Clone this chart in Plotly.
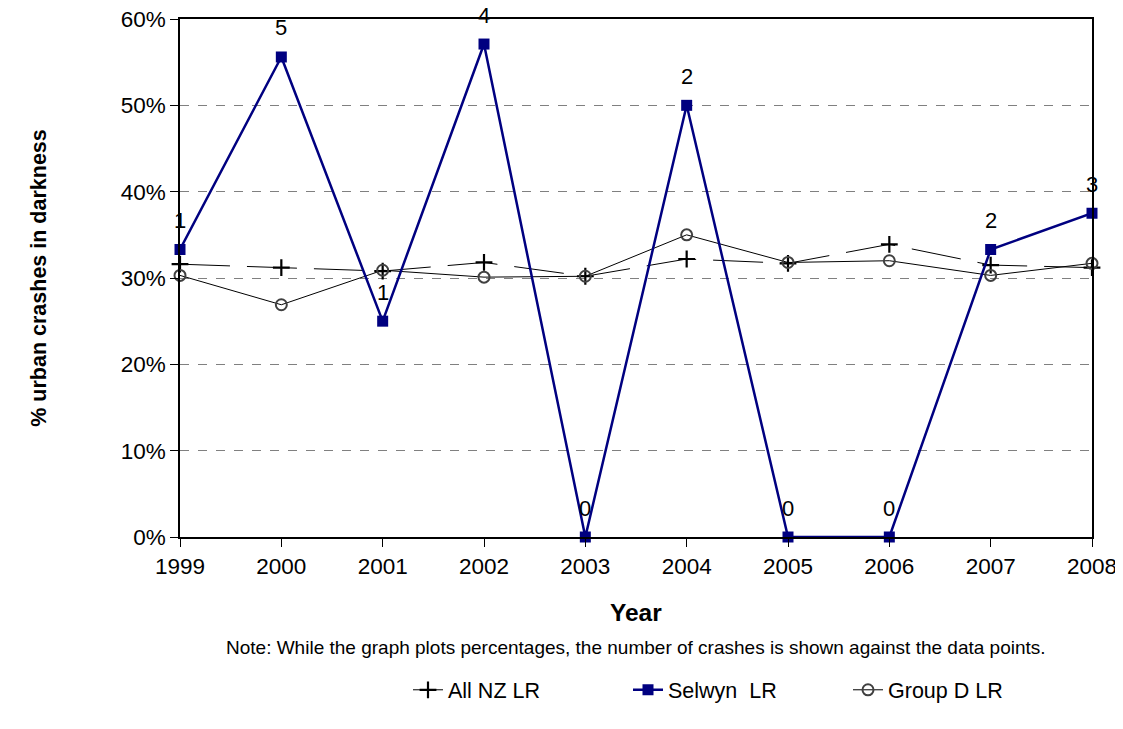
import plotly.graph_objects as go

# data
years = [1999, 2000, 2001, 2002, 2003, 2004, 2005, 2006, 2007, 2008]
all_nz = [0.316, 0.312, 0.308, 0.318, 0.302, 0.322, 0.317, 0.339, 0.315, 0.312]
group_d = [0.303, 0.269, 0.309, 0.301, 0.302, 0.350, 0.318, 0.320, 0.303, 0.317]
selwyn = [0.333, 0.556, 0.25, 0.571, 0.0, 0.5, 0.0, 0.0, 0.333, 0.375]
selwyn_counts = [1, 5, 1, 4, 0, 2, 0, 0, 2, 3]

font_family = "Liberation Sans, Arial, sans-serif"

fig = go.Figure()

fig.add_trace(go.Scatter(
    x=years, y=all_nz, name="All NZ LR", mode="lines+markers",
    line=dict(color="black", width=1, dash="50px,17px"),
    marker=dict(symbol="cross-thin-open", size=12, line=dict(color="black", width=2.2)),
    cliponaxis=False, legendrank=1))

fig.add_trace(go.Scatter(
    x=years, y=group_d, name="Group D LR", mode="lines+markers",
    line=dict(color="black", width=1),
    marker=dict(symbol="circle-open", size=11, color="#404040", line=dict(color="#404040", width=2)),
    cliponaxis=False, legendrank=3))

fig.add_trace(go.Scatter(
    x=years, y=selwyn, name="Selwyn  LR", mode="lines+markers",
    line=dict(color="#000080", width=2.5),
    marker=dict(symbol="square", size=11, color="#000080"),
    cliponaxis=False, legendrank=2))

# crash counts above the Selwyn points
for yr, val, n in zip(years, selwyn, selwyn_counts):
    fig.add_annotation(x=yr, y=val, text=str(n), showarrow=False, yshift=29,
                       font=dict(size=22, color="black", family=font_family))

fig.add_annotation(x=0.5, y=-0.176, xref="paper", yref="paper", text="<b>Year</b>",
                   showarrow=False, font=dict(size=24.5, color="black", family=font_family))
fig.add_annotation(x=0.5, y=-0.237, xref="paper", yref="paper",
                   text="Note: While the graph plots percentages, the number of crashes is shown against the data points.",
                   showarrow=False, font=dict(size=19, color="black", family=font_family))

fig.update_xaxes(range=[1999, 2008], tickvals=years, showline=True, linecolor="black", linewidth=1.5,
                 mirror=True, ticks="outside", ticklen=8, tickcolor="black", showgrid=False,
                 tickfont=dict(size=22.5), zeroline=False, automargin=False,
                 ticklabeloverflow="allow")
fig.update_yaxes(range=[0, 0.6], dtick=0.1, tickformat=".0%", showline=True, linecolor="black",
                 linewidth=1.5, mirror=True, ticks="outside", ticklen=8, tickcolor="black",
                 showgrid=True, gridcolor="#808080", griddash="dash", gridwidth=1,
                 tickfont=dict(size=22.5), zeroline=False, automargin=False,
                 ticklabeloverflow="allow",
                 title=dict(text="<b>% urban crashes in darkness</b>", font=dict(size=21.5), standoff=68))

fig.update_layout(
    width=1113, height=713,
    margin=dict(l=172, r=29, t=11, b=184),
    plot_bgcolor="white", paper_bgcolor="white",
    font=dict(family=font_family, color="black"),
    showlegend=True,
    legend=dict(orientation="h", x=0.25, xanchor="left", y=-0.295, yanchor="middle",
                font=dict(size=21.5), traceorder="normal", entrywidth=175),
)

fig.write_html("out.html")
